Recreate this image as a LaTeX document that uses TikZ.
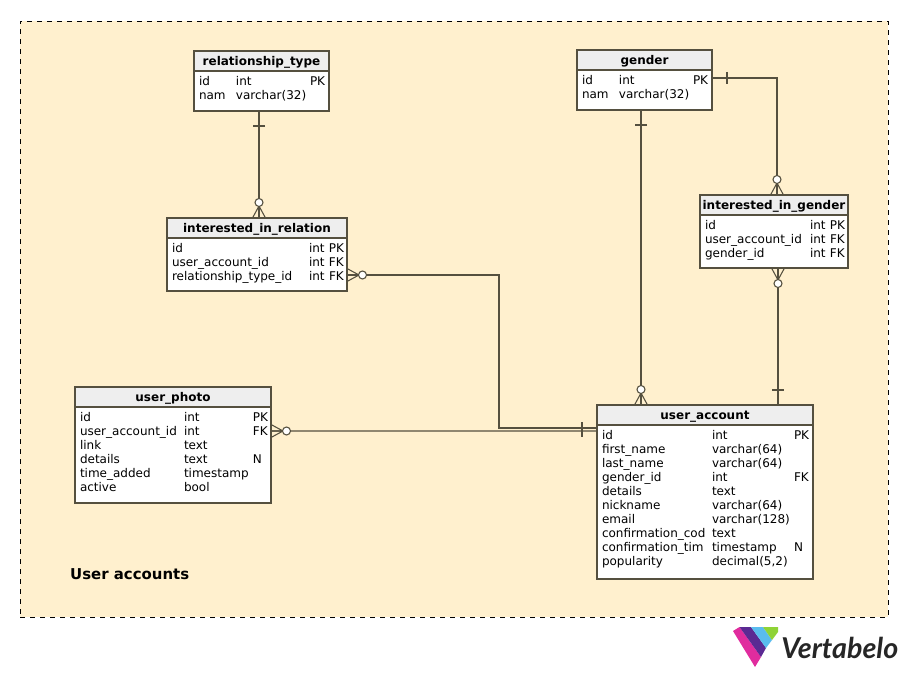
\documentclass[tikz,border=0pt]{standalone}
\usepackage{fontspec}
\setmainfont{DejaVu Sans}
\newfontfamily\logofont{Lato}
\usepackage{array}
\usepackage{tikz}
\usetikzlibrary{positioning}

\definecolor{framefill}{HTML}{FFF0CE}
\definecolor{headfill}{HTML}{EEEEEE}
\definecolor{linegray}{HTML}{55503F}
\definecolor{logopink}{HTML}{E02C9E}
\definecolor{logopurple}{HTML}{5B2A93}
\definecolor{logoblue}{HTML}{5ABCEE}
\definecolor{logogreen}{HTML}{8FD336}

% rows of a table: widths of first two columns, rows, extra space below
\newcommand{\tblrows}[4]{%
  \begin{tabular}{@{}p{#1}@{}p{#2}@{}l@{}}#3\\[#4]\end{tabular}}

\begin{document}
\begin{tikzpicture}[
    x=0.75pt, y=-0.75pt,
    font=\fontsize{9}{10.5}\selectfont,
    conn/.style={draw=linegray, line width=0.8pt},
    tblhead/.style={rectangle, conn, fill=headfill, anchor=north west, outer sep=0pt,
                    minimum height=15pt, inner sep=0pt, text height=8.5pt, text depth=1pt,
                    font=\fontsize{9}{10.5}\selectfont\bfseries},
    tblbody/.style={rectangle, conn, fill=white, outer sep=0pt, inner xsep=3.75pt,
                    inner ysep=3.75pt, align=left},
    crowfoot/.pic={
        \draw[conn] (0,-6.5) -- (12,0) -- (0,6.5) (0,0) -- (12,0);
        \draw[conn, fill=white] (15.5,0) circle[radius=3pt];
    },
    onebar/.pic={\draw[conn] (15,-6) -- (15,6);}
]
\useasboundingbox (0,0) rectangle (908,677);

% ---- Subject area ----
\node[draw=black, line width=0.7pt, dash pattern=on 3.75pt off 3.75pt, fill=framefill, rectangle,
      anchor=north west, minimum width=651pt, minimum height=447pt, outer sep=0pt] (area) at (20,21) {};
\node[anchor=west, font=\fontsize{11.2}{13}\selectfont\bfseries] (areatitle) at (65.5,574.5) {User accounts};

% ---- relationship_type ----
\node[tblhead, minimum width=101.25pt] (reltype) at (194,51) {relationship\_type};
\node[tblbody, below=0pt of reltype, text width=93.75pt] (reltypebody)
    {\tblrows{27.75pt}{55.5pt}{id & int & PK\\ nam & varchar(32) & }{1.5pt}};

% ---- gender ----
\node[tblhead, minimum width=101.25pt] (gender) at (577,50) {gender};
\node[tblbody, below=0pt of gender, text width=93.75pt] (genderbody)
    {\tblrows{27.75pt}{55.5pt}{id & int & PK\\ nam & varchar(32) & }{1.5pt}};

% ---- interested_in_relation ----
\node[tblhead, minimum width=135pt] (interrel) at (167,218) {interested\_in\_relation};
\node[tblbody, below=0pt of interrel, text width=127.5pt] (interrelbody)
    {\tblrows{102.75pt}{15pt}{id & int & PK\\ user\_account\_id & int & FK\\ relationship\_type\_id & int & FK}{0.75pt}};

% ---- interested_in_gender ----
\node[tblhead, minimum width=111pt] (intergen) at (700,195) {interested\_in\_gender};
\node[tblbody, below=0pt of intergen, text width=103.5pt] (intergenbody)
    {\tblrows{78.75pt}{15pt}{id & int & PK\\ user\_account\_id & int & FK\\ gender\_id & int & FK}{0.75pt}};

% ---- user_photo ----
\node[tblhead, minimum width=147pt] (photo) at (75,387) {user\_photo};
\node[tblbody, below=0pt of photo, text width=139.5pt] (photobody)
    {\tblrows{78pt}{51.75pt}{id & int & PK\\ user\_account\_id & int & FK\\ link & text & \\
     details & text & N\\ time\_added & timestamp & \\ active & bool & }{1.5pt}};

% ---- user_account ----
\node[tblhead, minimum width=162pt] (account) at (597,405) {user\_account};
\node[tblbody, below=0pt of account, text width=154.5pt] (accountbody)
    {\tblrows{82.5pt}{61.5pt}{id & int & PK\\ first\_name & varchar(64) & \\ last\_name & varchar(64) & \\
     gender\_id & int & FK\\ details & text & \\ nickname & varchar(64) & \\ email & varchar(128) & \\
     confirmation\_cod & text & \\ confirmation\_tim & timestamp & N\\ popularity & decimal(5,2) & }{3pt}};

% ---- Connector ends ----
\coordinate (reltype-s) at ([shift={(-2.5,0)}]reltypebody.south);
\coordinate (interrel-n) at ([shift={(2,0)}]interrel.north);
\coordinate (interrel-e) at ([shift={(0,10.5)}]interrelbody.east);
\coordinate (gender-e) at ([shift={(0,-12)}]genderbody.east);
\coordinate (gender-s) at ([shift={(-3.5,0)}]genderbody.south);
\coordinate (intergen-n) at ([shift={(3,0)}]intergen.north);
\coordinate (intergen-s) at ([shift={(4,0)}]intergenbody.south);
\coordinate (photo-e) at ([shift={(0,-24)}]photobody.east);
\coordinate (account-n1) at ([shift={(-64,0)}]account.north);
\coordinate (account-n2) at ([shift={(73,0)}]account.north);
\coordinate (account-w1) at ([shift={(0,-74)}]accountbody.west);
\coordinate (account-w2) at ([shift={(0,-71)}]accountbody.west);

% ---- Connectors ----
\draw[conn] (reltype-s) -- (interrel-n);
\pic[rotate=-90] at (reltype-s) {onebar};
\pic[rotate=90] at (interrel-n) {crowfoot};

\draw[conn] (gender-e) -| (intergen-n);
\pic at (gender-e) {onebar};
\pic[rotate=90] at (intergen-n) {crowfoot};

\draw[conn] (gender-s) -- (account-n1);
\pic[rotate=-90] at (gender-s) {onebar};
\pic[rotate=90] at (account-n1) {crowfoot};

\draw[conn] (intergen-s) -- (account-n2);
\pic[rotate=-90] at (intergen-s) {crowfoot};
\pic[rotate=90] at (account-n2) {onebar};

\draw[conn] (interrel-e) -- ++(152,0) |- (account-w1);
\pic at (interrel-e) {crowfoot};
\pic[rotate=180] at (account-w1) {onebar};

\draw[conn] (photo-e) -- (account-w2);
\pic at (photo-e) {crowfoot};
\pic[rotate=180] at (account-w2) {onebar};

% ---- Logo ----
\fill[logopink] (733,631) -- (739.5,627) -- (761,657) -- (755,667) -- cycle;
\fill[logopurple] (739.5,627) -- (751,627) -- (766,648) -- (761,657) -- cycle;
\fill[logoblue] (751,627) -- (763,627) -- (772,640) -- (766,648) -- cycle;
\fill[logogreen] (763,627) -- (778,627) -- (778,632) -- (772,640) -- cycle;
\node[anchor=base west, inner sep=0pt, text=black!85, font=\logofont\fontsize{21.5}{24}\selectfont\bfseries\itshape]
    (logotext) at (781,658) {Vertabelo};

\end{tikzpicture}
\end{document}
